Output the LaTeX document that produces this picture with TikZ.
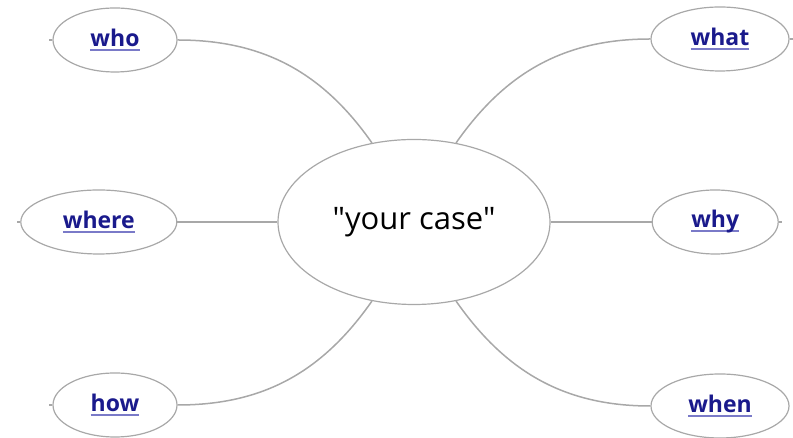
\documentclass[tikz,border=0pt]{standalone}
\usepackage{fontspec}
\setmainfont{Open Sans}[Ligatures=TeXOff]
\usetikzlibrary{positioning,shapes.geometric}

\definecolor{rimgray}{HTML}{A8A8A8}
\definecolor{linkblue}{HTML}{1A1A8C}
\definecolor{linkline}{HTML}{7A7AC8}

% underlined link text
\newcommand\qlink[1]{\setbox0\hbox{#1}\rlap{\textcolor{linkline}{\rule[-4pt]{\wd0}{2.2pt}}}\textcolor{linkblue}{\box0}}

\tikzset{
  hub/.style  = {ellipse, draw=rimgray, line width=1.2pt, inner sep=0pt,
                 minimum width=272pt, minimum height=165pt,
                 font=\fontsize{31}{36}\selectfont},
  leaf/.style = {ellipse, draw=rimgray, line width=1.2pt, inner sep=0pt,
                 minimum height=64pt, font=\fontsize{23}{27}\selectfont\bfseries},
  spoke/.style = {draw=rimgray, line width=1.5pt},
}

\begin{document}
\begin{tikzpicture}[x=1pt, y=1pt]
  \useasboundingbox (0,0) rectangle (793,438);

  \node[hub] (c) at (414,216) {"your case"};

  \node[leaf, minimum width=124pt] (who)  at (115,398) {\qlink{who}};
  \node[leaf, minimum width=138pt] (what) at (720,399) {\qlink{what}};
  \node[leaf, minimum width=156pt, left=100pt of c]  (where) {\qlink{where}};
  \node[leaf, minimum width=126pt, right=101pt of c] (why)   {\qlink{why}};
  \node[leaf, minimum width=124pt] (how)  at (115,33) {\qlink{how}};
  \node[leaf, minimum width=138pt] (when) at (720,32) {\qlink{when}};

  % little stubs on the outer sides
  \coordinate[left=3pt of who.west]    (whotip);
  \coordinate[left=3pt of where.west]  (wheretip);
  \coordinate[left=3pt of how.west]    (howtip);
  \coordinate[right=3pt of what.east]  (whattip);
  \coordinate[right=3pt of why.east]   (whytip);
  \draw[spoke] (who.west) -- (whotip);
  \draw[spoke] (where.west) -- (wheretip);
  \draw[spoke] (how.west) -- (howtip);
  \draw[spoke] (what.east) -- (whattip);
  \draw[spoke] (why.east) -- (whytip);

  % spokes to the hub
  \draw[spoke] (who.east)  to[out=0,   in=125] (c.118);
  \draw[spoke] (what.west) to[out=180, in=55]  (c.62);
  \draw[spoke] (how.east)  to[out=0,   in=235] (c.242);
  \draw[spoke] (when.west) to[out=180, in=-55] (c.-62);
  \draw[spoke] (where) -- (c);
  \draw[spoke] (c) -- (why);
\end{tikzpicture}
\end{document}
